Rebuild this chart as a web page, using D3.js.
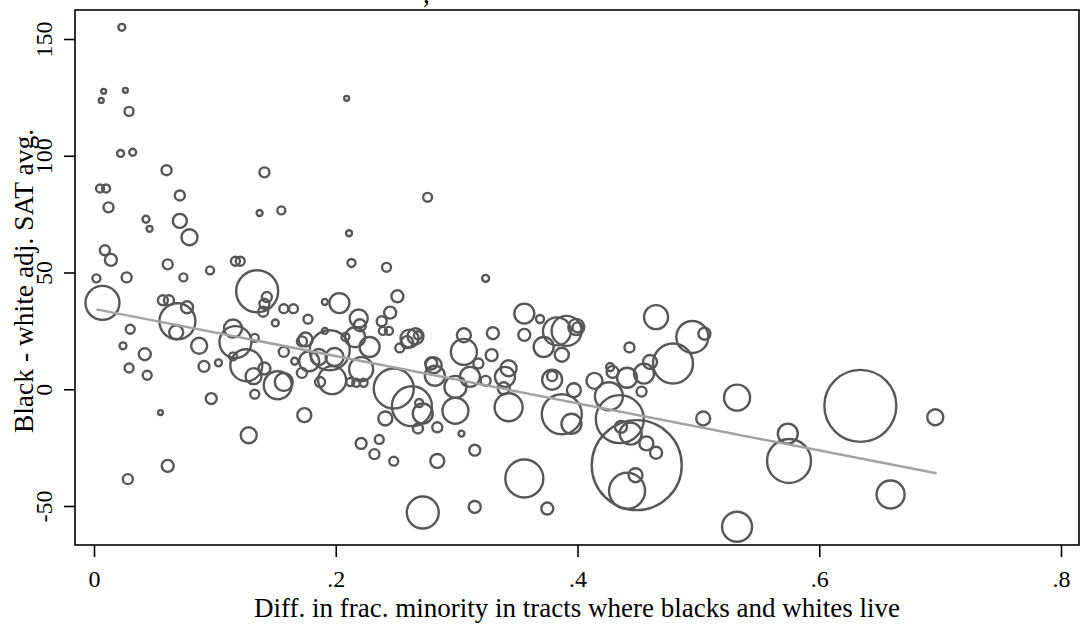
<!DOCTYPE html>
<html><head><meta charset="utf-8">
<script src="https://cdn.jsdelivr.net/npm/d3@7"></script>
<style>
html,body{margin:0;padding:0;background:#fff;}
svg{display:block;}
text{font-family:"Liberation Serif","Times New Roman",serif;fill:#000;}
</style></head>
<body>
<svg id="chart" width="1080" height="625"></svg>
<script>
// Data: x = diff. in frac. minority, y = black-white adj. SAT avg., w = weight (marker size)
const xs = [0.023,0.006,0.008,0.026,0.029,0.022,0.032,0.060,0.141,0.071,0.005,0.010,0.209,0.276,0.012,0.043,0.046,0.071,0.079,0.137,
0.155,0.211,0.009,0.014,0.061,0.096,0.117,0.121,0.213,0.002,0.027,0.074,0.242,0.324,0.007,0.057,0.062,0.069,0.077,0.068,
0.135,0.143,0.141,0.140,0.030,0.024,0.042,0.087,0.029,0.044,0.091,0.103,0.097,0.055,0.128,0.174,0.061,0.028,0.191,0.203,
0.177,0.157,0.165,0.150,0.117,0.115,0.126,0.132,0.141,0.152,0.157,0.133,0.115,0.133,0.157,0.166,0.172,0.195,0.175,0.172,
0.191,0.178,0.186,0.199,0.197,0.187,0.212,0.217,0.223,0.219,0.220,0.216,0.208,0.221,0.228,0.221,0.251,0.245,0.238,0.239,
0.244,0.248,0.263,0.272,0.269,0.241,0.268,0.284,0.236,0.232,0.261,0.266,0.259,0.253,0.268,0.279,0.281,0.282,0.299,0.299,
0.306,0.306,0.318,0.311,0.324,0.330,0.329,0.343,0.340,0.339,0.343,0.304,0.315,0.356,0.369,0.356,0.372,0.387,0.383,0.391,
0.399,0.400,0.379,0.379,0.387,0.395,0.397,0.465,0.495,0.505,0.443,0.479,0.460,0.455,0.441,0.429,0.427,0.414,0.453,0.426,
0.435,0.436,0.444,0.457,0.465,0.449,0.441,0.448,0.532,0.504,0.634,0.696,0.574,0.575,0.659,0.532,0.272,0.315,0.375,0.356,
0.284,0.248];
const ys = [155.0,123.7,127.6,128.0,119.0,101.0,101.5,93.8,92.9,83.0,86.0,86.0,124.6,82.2,77.9,72.8,68.7,72.1,65.1,75.5,
76.6,66.8,59.5,55.4,53.5,50.9,54.8,54.8,54.1,47.5,47.9,47.9,52.2,47.5,37.0,38.1,38.1,29.1,35.1,24.4,
42.0,39.5,36.6,33.2,25.7,18.6,15.0,18.6,9.1,6.0,9.8,11.3,-4.0,-10.0,-19.7,-11.1,-32.8,-38.5,37.4,36.9,
30.0,34.5,34.5,28.4,20.2,26.0,10.3,5.6,8.9,1.7,3.1,-2.1,14.1,22.0,16.0,12.0,7.0,16.7,21.3,20.5,
25.0,12.0,13.8,13.8,3.9,3.1,3.1,2.8,2.8,30.3,27.4,22.3,22.4,8.6,18.1,-23.2,39.8,32.8,29.1,25.0,
25.0,0.3,-7.3,-10.4,-5.9,-12.5,-16.8,-16.3,-21.5,-27.8,21.7,22.7,20.2,17.7,23.1,11.0,10.3,5.8,1.0,-9.2,
23.1,16.0,11.0,5.3,3.6,24.0,14.6,9.0,5.3,0.4,-7.7,-19.0,-26.1,32.4,30.1,23.3,18.1,14.8,24.8,25.0,
26.7,26.5,4.1,5.6,-10.7,-14.8,-0.4,30.9,22.4,23.8,17.9,11.0,11.7,6.7,4.9,7.4,9.5,3.6,-1.0,-3.0,
-12.8,-16.1,-19.0,-23.2,-27.2,-32.5,-43.5,-36.8,-3.6,-12.5,-7.1,-12.0,-19.0,-30.7,-45.1,-58.9,-52.8,-50.4,-51.1,-38.2,
-30.7,-30.8];
const ws = [12,6,6,6,20,12,12,25,25,25,16,16,6,20,25,12,9,49,64,9,
16,9,25,36,25,16,20,20,16,16,25,16,20,12,289,25,25,324,36,49,
441,25,25,25,20,12,36,64,20,20,30,12,30,6,64,49,36,25,9,100,
20,20,20,12,256,81,256,64,36,196,81,20,16,16,25,12,25,400,49,25,
9,100,64,81,196,25,16,16,16,81,36,100,16,144,100,30,36,36,25,16,
16,400,400,100,16,49,25,25,20,25,81,64,36,20,16,36,64,100,121,169,
49,169,25,100,25,36,36,64,100,36,196,9,30,100,16,36,100,49,196,225,
64,25,100,25,400,100,49,144,256,36,25,400,49,100,100,36,16,64,25,196,
576,36,121,49,36,2025,324,49,169,49,1296,64,100,484,196,225,256,36,36,361,
49,20];
// Fitted line (endpoints)
const fitX = [0.002, 0.697];
const fitY = [34.2, -36.0];
// Axes
const xTicks = [0, 0.2, 0.4, 0.6, 0.8];
const yTicks = [-50, 0, 50, 100, 150];
const xTitle = "Diff. in frac. minority in tracts where blacks and whites live";
const yTitle = "Black - white adj. SAT avg.";

const svg = d3.select("#chart");
const L = 75, R = 1079, T = 10, B = 545;
const x = d3.scaleLinear().domain([0, 0.8]).range([94, 1061]);
const y = d3.scaleLinear().domain([-50, 150]).range([506, 39]);
const r = d3.scaleSqrt().domain([0, 2025]).range([0, 45]);

const fmtX = d => d === 0 ? "0" : String(d).replace(/^0/, "");
const fmtY = d => String(d);

// plot frame
svg.append("rect").attr("x", L).attr("y", T).attr("width", R - L).attr("height", B - T)
  .attr("fill", "none").attr("stroke", "#000").attr("stroke-width", 1.6);

// markers
const g = svg.append("g");
g.selectAll("circle").data(xs.map((v, i) => ({x: v, y: ys[i], w: ws[i]})))
  .enter().append("circle")
  .attr("cx", d => x(d.x)).attr("cy", d => y(d.y)).attr("r", d => r(d.w))
  .attr("fill", "none").attr("stroke", "#575757").attr("stroke-width", 2.4);

// fit line
svg.append("line")
  .attr("x1", x(fitX[0])).attr("y1", y(fitY[0]))
  .attr("x2", x(fitX[1])).attr("y2", y(fitY[1]))
  .attr("stroke", "#a3a3a3").attr("stroke-width", 2.5);

// x axis
const xa = svg.append("g").attr("transform", `translate(0,${B})`)
  .call(d3.axisBottom(x).tickValues(xTicks).tickFormat(fmtX).tickSize(12).tickSizeOuter(0));
xa.select(".domain").remove();
xa.selectAll(".tick line").attr("stroke", "#000").attr("stroke-width", 1.6);
xa.selectAll(".tick text").attr("y", 42).attr("dy", 0)
  .style("font-size", "24px").style("font-family", '"Liberation Serif",serif').attr("fill", "#000");

// y axis
const ya = svg.append("g").attr("transform", `translate(${L},0)`)
  .call(d3.axisLeft(y).tickValues(yTicks).tickFormat(fmtY).tickSize(11).tickSizeOuter(0));
ya.select(".domain").remove();
ya.selectAll(".tick line").attr("stroke", "#000").attr("stroke-width", 1.6);
ya.selectAll(".tick text").attr("transform", "rotate(-90)").attr("x", 0).attr("y", -23).attr("dy", 0)
  .attr("text-anchor", "middle")
  .style("font-size", "24px").style("font-family", '"Liberation Serif",serif').attr("fill", "#000");

// axis titles
svg.append("text").attr("x", (L + R) / 2).attr("y", 617).attr("text-anchor", "middle")
  .style("font-size", "27px").text(xTitle);
svg.append("text").attr("transform", "translate(33,281) rotate(-90)").attr("text-anchor", "middle")
  .style("font-size", "27.5px").text(yTitle);

// remnant of a title above the plot (only its comma shows)
svg.append("text").attr("x", 423).attr("y", 3).style("font-size", "27px").text(",");
</script>
</body></html>
